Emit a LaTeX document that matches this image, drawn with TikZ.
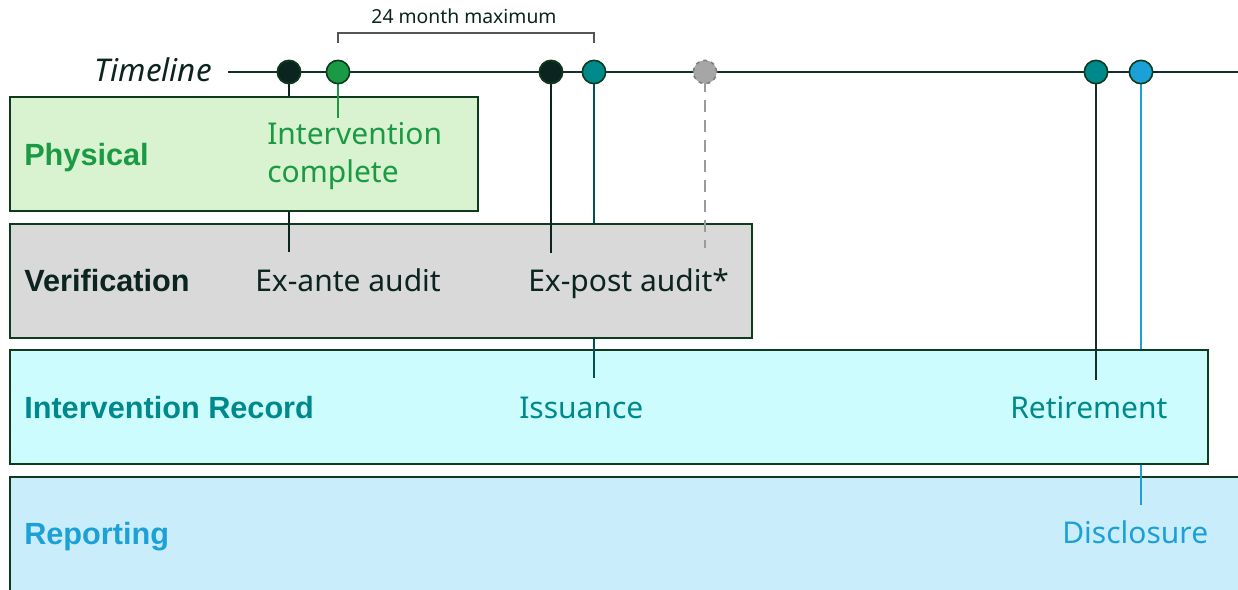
\documentclass[tikz,border=0pt]{standalone}
\usepackage{fontspec}
\setmainfont{Noto Sans}[AutoFakeBold=2.2]
\newfontfamily\titlefont{Liberation Sans}
\definecolor{lineDark}{HTML}{12302B}
\definecolor{boxBorder}{HTML}{0E3B1E}
\definecolor{physFill}{HTML}{D9F2D0}
\definecolor{physGreen}{HTML}{1A9A44}
\definecolor{verFill}{HTML}{D9D9D9}
\definecolor{verText}{HTML}{0B2420}
\definecolor{irFill}{HTML}{CCFCFE}
\definecolor{tealC}{HTML}{00898B}
\definecolor{repFill}{HTML}{CAEDFB}
\definecolor{blueC}{HTML}{1BA1D8}
\definecolor{greyDot}{HTML}{A6A6A6}
\definecolor{greyLine}{HTML}{9A9A9A}
\definecolor{bracketC}{HTML}{555555}
\tikzset{
  lane/.style={draw=boxBorder, line width=1.6pt, anchor=north west, inner sep=0pt, outer sep=0pt},
  dot/.style={circle, draw=boxBorder, line width=1.2pt, minimum size=17.5pt, inner sep=0pt},
  lanetitle/.style={anchor=base west, font=\titlefont\fontsize{23}{27}\selectfont\bfseries, inner sep=0pt},
  evtext/.style={anchor=base west, font=\fontsize{22.5}{28.5}\selectfont, inner sep=0pt, align=left},
  stem/.style={line width=1.3pt}
}
\begin{document}
\begin{tikzpicture}[x=0.75pt,y=-0.75pt]
\useasboundingbox (0,0) rectangle (1238,589);
% timeline
\node[anchor=base east, inner sep=0pt, font=\fontsize{23.5}{28}\selectfont\itshape, text=verText] (tl) at (212,81) {Timeline};
\coordinate (tlstart) at (228,72);
\coordinate (tlend) at (1238,72);
\draw[line width=1.5pt, lineDark] (tlstart) -- (tlend);

% coordinates of stem ends
\coordinate (e1) at (289,252);
\coordinate (e2) at (338,118);
\coordinate (e3) at (551,253);
\coordinate (e4) at (594,378);
\coordinate (e5) at (705,248);
\coordinate (e6) at (1096,380);
\coordinate (e7) at (1141,505);

% lanes drawn bottom up with stems in between
\node[lane, fill=repFill, minimum width=1240*0.75pt, minimum height=120*0.75pt] (rep) at (10,477) {};
\draw[stem, blueC] (1141,72) -- (e7);
\node[lane, fill=irFill, minimum width=1198*0.75pt, minimum height=114*0.75pt] (ir) at (10,350) {};
\draw[stem, tealC!60!black] (594,72) -- (e4);
\draw[stem, lineDark] (1096,72) -- (e6);
\node[lane, fill=verFill, minimum width=742*0.75pt, minimum height=114*0.75pt] (ver) at (10,224) {};
\draw[stem, verText] (289,72) -- (e1);
\draw[stem, verText] (551,72) -- (e3);
\draw[stem, greyLine, dash pattern=on 9pt off 6pt] (705,80) -- (e5);
\node[lane, fill=physFill, minimum width=468*0.75pt, minimum height=114*0.75pt] (phys) at (10,97) {};
\draw[stem, physGreen] (338,72) -- (e2);

% dots
\node[dot, fill=verText] (d1) at (289,72) {};
\node[dot, fill=physGreen] (d2) at (338,72) {};
\node[dot, fill=verText] (d3) at (551,72) {};
\node[dot, fill=tealC] (d4) at (594,72) {};
\node[dot, fill=greyDot, draw=gray, dashed] (d5) at (705,72) {};
\node[dot, fill=tealC] (d6) at (1096,72) {};
\node[dot, fill=blueC] (d7) at (1141,72) {};

% bracket
\coordinate (b1) at (338,43);
\coordinate (b2) at (594,43);
\draw[line width=1.1pt, bracketC] (b1) -- ([yshift=7.5pt]b1) -- ([yshift=7.5pt]b2) -- (b2);
\node[anchor=base, inner sep=0pt, font=\fontsize{14.5}{17}\selectfont, text=verText] (brlabel) at (464,23) {24 month maximum};

% lane titles
\node[lanetitle, text=physGreen] (tphys) at (24,165) {Physical};
\node[lanetitle, text=verText] (tver) at (24,291) {Verification};
\node[lanetitle, text=tealC] (tir) at (24,418) {Intervention Record};
\node[lanetitle, text=blueC] (trep) at (24,544) {Reporting};

% event texts
\node[evtext, text=physGreen] (ic) at (267,182) {Intervention\\complete};
\node[evtext, text=verText] (exa) at (255,291) {Ex-ante audit};
\node[evtext, text=verText] (exp) at (528,291) {Ex-post audit*};
\node[evtext, text=tealC] (iss) at (519,418) {Issuance};
\node[evtext, text=tealC] (ret) at (1010,418) {Retirement};
\node[evtext, text=blueC] (dis) at (1062,543) {Disclosure};
\end{tikzpicture}
\end{document}
